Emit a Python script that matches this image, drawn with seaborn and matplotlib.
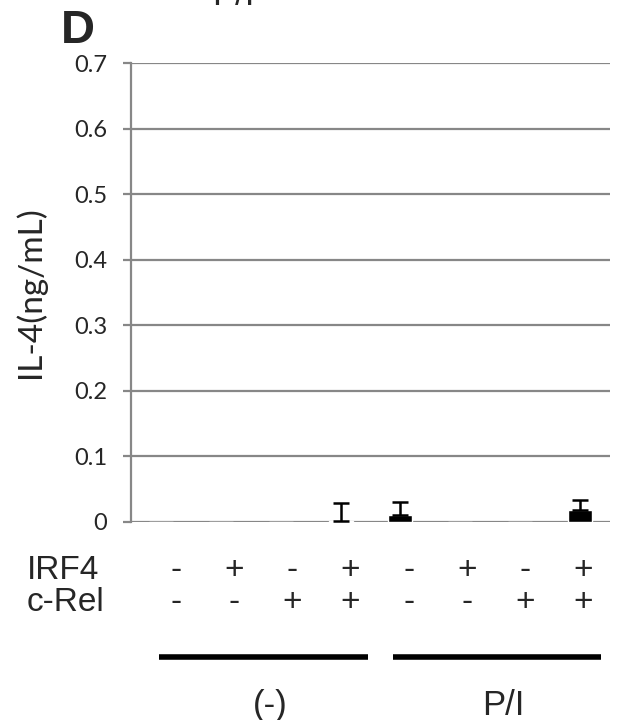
import matplotlib
matplotlib.use("Agg")
import matplotlib.pyplot as plt
import numpy as np
import pandas as pd
import seaborn as sns

# values
conditions = ["c1", "c2", "c3", "c4", "c5", "c6", "c7", "c8"]
il4_values = [0.0, 0.0, 0.0, 0.002, 0.010, 0.0, 0.0, 0.018]
il4_errors = [0.0, 0.0, 0.0, 0.027, 0.020, 0.0, 0.0, 0.015]
has_error = [False, False, False, True, True, False, False, True]
irf4_signs = ["-", "+", "-", "+", "-", "+", "-", "+"]
crel_signs = ["-", "-", "+", "+", "-", "-", "+", "+"]
groups = ["(-)", "P/I"]
y_ticks = [0, 0.1, 0.2, 0.3, 0.4, 0.5, 0.6, 0.7]

df = pd.DataFrame({"condition": conditions, "il4": il4_values})

sns.set_theme(style="white")
plt.rcParams["font.family"] = ["Liberation Sans", "DejaVu Sans"]

fig = plt.figure(figsize=(6.17, 7.2), dpi=100)
ax = fig.add_axes([0.2123, 0.275, 0.7764, 0.6375])

grid_col = "#878787"
for t in y_ticks:
    ax.axhline(t, color=grid_col, lw=1.6, zorder=0)

sns.barplot(data=df, x="condition", y="il4", color="black", width=0.4,
            errorbar=None, saturation=1, ax=ax, zorder=3)

xs = np.arange(len(conditions))
mask = np.array(has_error)
ax.errorbar(xs[mask], np.array(il4_values)[mask],
            yerr=[np.zeros(mask.sum()), np.array(il4_errors)[mask]],
            fmt="none", ecolor="black", elinewidth=1.8, capsize=6,
            capthick=1.8, zorder=4)

ax.set_ylim(0, 0.7)
ax.set_xlim(-0.5, 7.5)
ax.set_yticks(y_ticks)
ax.set_yticklabels(["0" if t == 0 else f"{t:.1f}" for t in y_ticks],
                   family="Lato", fontsize=17)
ax.tick_params(axis="y", left=True, length=6, width=1.6, color=grid_col, pad=11)
ax.tick_params(axis="x", bottom=False, labelbottom=False)
ax.set_xlabel("")
ax.set_ylabel("IL-4(ng/mL)", family="Lato", fontsize=24, labelpad=20)
for s in ["top", "right", "bottom"]:
    ax.spines[s].set_visible(False)
ax.spines["left"].set_color(grid_col)
ax.spines["left"].set_linewidth(1.6)

# condition table under the axis
trans = ax.get_xaxis_transform()
lab_fs = 24
row1 = -(579 - 522) / 459
row2 = -(611 - 522) / 459
for i, (a, b) in enumerate(zip(irf4_signs, crel_signs)):
    xp = 0.25 + i * 0.972
    ax.text(xp, row1, a, transform=trans, ha="center", va="baseline", fontsize=lab_fs)
    ax.text(xp, row2, b, transform=trans, ha="center", va="baseline", fontsize=lab_fs)
fig.text(27 / 617, 1 - 579 / 720, "IRF4", ha="left", va="baseline", fontsize=lab_fs)
fig.text(27 / 617, 1 - 611 / 720, "c-Rel", ha="left", va="baseline", fontsize=lab_fs)

for g, (x0, x1) in zip(groups, [(0.0, 3.45), (3.9, 7.35)]):
    ax.plot([x0 - 0.03, x1], [-0.294, -0.294], transform=trans, color="black",
            lw=4, clip_on=False, solid_capstyle="butt")
    ax.text((x0 + x1) / 2 + 0.1, -0.42, g, transform=trans, ha="center",
            va="baseline", fontsize=25)

fig.text(61 / 617, 1 - 43 / 720, "D", ha="left", va="baseline",
         fontsize=34, fontweight="bold", family="Liberation Sans")
fig.text(233 / 617, 1 - 5 / 720, "P/I", ha="center", va="baseline",
         fontsize=25)

fig.savefig("out.png", dpi=100)
